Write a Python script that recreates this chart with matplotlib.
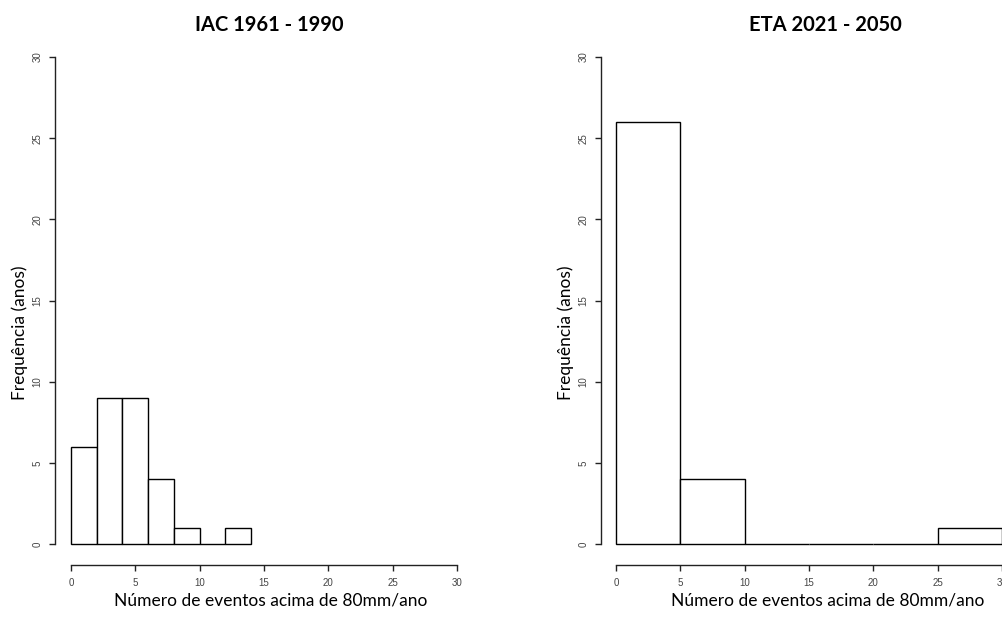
import matplotlib
matplotlib.use("Agg")
import matplotlib.pyplot as plt
import numpy as np

# histogram data (bin edges and counts)
iac_edges = [0, 2, 4, 6, 8, 10, 12, 14]
iac_counts = [6, 9, 9, 4, 1, 0, 1]
eta_edges = [0, 5, 10, 15, 20, 25, 30]
eta_counts = [26, 4, 0, 0, 0, 1]

titles = ["IAC 1961 - 1990", "ETA 2021 - 2050"]
xlabel = "Número de eventos acima de 80mm/ano"
ylabel = "Frequência (anos)"
ticks = [0, 5, 10, 15, 20, 25, 30]

W, H = 1003, 619
fig = plt.figure(figsize=(W / 100, H / 100), dpi=100)

panels = [
    # x0 px, yaxis px, edges, counts, title x, xlabel x, ylabel x
    (71, 55, iac_edges, iac_counts, 269, 271, 20),
    (616, 601, eta_edges, eta_counts, 825, 828, 566),
]

for i, (x0, yax, edges, counts, tx, lx, yx) in enumerate(panels):
    ax = fig.add_axes([x0 / W, (H - 544) / H, 386 / W, 487 / H])
    e = np.array(edges)
    ax.bar(e[:-1], counts, width=np.diff(e), align="edge",
           facecolor="white", edgecolor="black", linewidth=1.0, clip_on=False)
    ax.set_xlim(0, 30)
    ax.set_ylim(0, 30)
    ax.spines["top"].set_visible(False)
    ax.spines["right"].set_visible(False)
    ax.spines["left"].set_position(("outward", (x0 - yax) * 0.72))
    ax.spines["bottom"].set_position(("outward", 21 * 0.72))
    ax.spines["left"].set_bounds(0, 30)
    ax.spines["bottom"].set_bounds(0, 30)
    for s in ["left", "bottom"]:
        ax.spines[s].set_linewidth(1.0)
        ax.spines[s].set_color("#222222")
    ax.set_xticks(ticks)
    ax.set_yticks(ticks)
    ax.tick_params(axis="both", length=4.5, width=1.0, color="#222222",
                   labelsize=7, labelcolor="#444444", pad=4.5)
    for lab in ax.get_xticklabels() + ax.get_yticklabels():
        lab.set_family("Liberation Sans")
    plt.setp(ax.get_yticklabels(), rotation=90, va="center")
    ax.patch.set_alpha(0)

    fig.text(tx / W, 1 - 25 / H, titles[i], ha="center", va="center",
             fontsize=14.5, fontweight="bold", family="Lato")
    fig.text(lx / W, 1 - 600 / H, xlabel, ha="center", va="center",
             fontsize=12.5, family="Lato")
    fig.text(yx / W, 1 - 333 / H, ylabel, ha="center", va="center",
             rotation=90, fontsize=12.5, family="Lato")

fig.savefig("out.png", dpi=100)
